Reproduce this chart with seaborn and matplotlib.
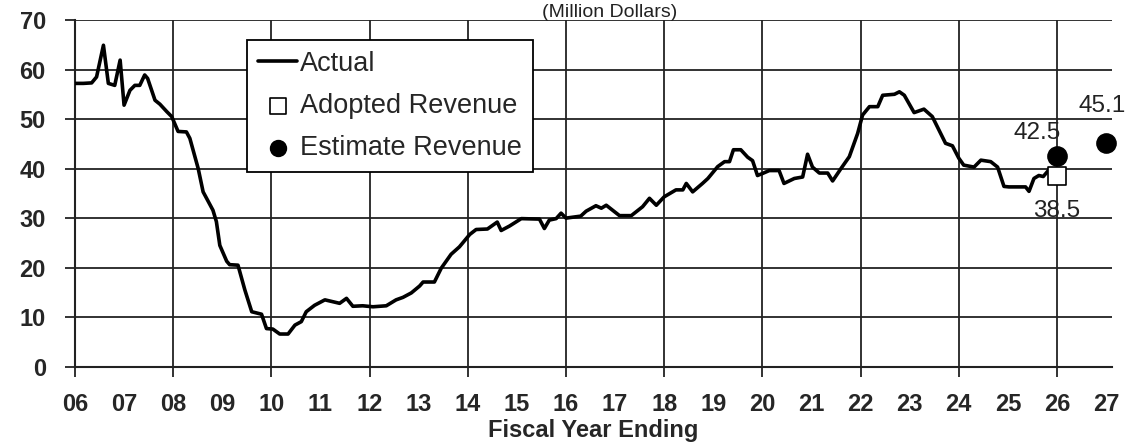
import numpy as np
import pandas as pd
import matplotlib
matplotlib.use("Agg")
import matplotlib.pyplot as plt
import seaborn as sns
from matplotlib.ticker import FixedLocator

sns.set_theme(style="white")
plt.rcParams['font.family'] = ['Liberation Sans', 'DejaVu Sans']

# monthly actual revenue (fiscal year as decimal)
years = [6.00, 6.17, 6.34, 6.44, 6.58, 6.68, 6.81, 6.92, 7.00, 7.12, 7.22, 7.32, 7.42, 7.48,
         7.63, 7.73, 7.87, 7.97, 8.10, 8.27, 8.34, 8.51, 8.61, 8.81, 8.88, 8.95, 9.09, 9.15,
         9.32, 9.46, 9.60, 9.80, 9.90, 10.03, 10.17, 10.34, 10.48, 10.61, 10.71, 10.88, 11.09,
         11.39, 11.53, 11.66, 11.86, 12.07, 12.34, 12.54, 12.68, 12.85, 13.02, 13.09, 13.32,
         13.46, 13.66, 13.83, 14.04, 14.17, 14.40, 14.60, 14.68, 14.85, 15.09, 15.46, 15.56,
         15.66, 15.80, 15.90, 16.00, 16.30, 16.41, 16.61, 16.72, 16.82, 17.09, 17.33, 17.56,
         17.70, 17.84, 18.00, 18.24, 18.38, 18.45, 18.58, 18.78, 18.89, 19.09, 19.23, 19.33,
         19.41, 19.56, 19.70, 19.80, 19.90, 20.00, 20.14, 20.34, 20.44, 20.65, 20.82, 20.92,
         21.02, 21.16, 21.33, 21.43, 21.60, 21.77, 21.94, 22.04, 22.18, 22.35, 22.45, 22.69,
         22.79, 22.89, 23.09, 23.29, 23.46, 23.73, 23.87, 24.00, 24.10, 24.31, 24.45, 24.65,
         24.79, 24.92, 25.02, 25.36, 25.43, 25.53, 25.63, 25.72, 25.84]
revenue = [57.2, 57.2, 57.3, 58.5, 64.9, 57.2, 56.8, 61.9, 52.8, 55.8, 56.8, 56.8, 58.9, 58.2,
           53.8, 53.0, 51.5, 50.5, 47.5, 47.4, 46.1, 40.0, 35.3, 31.6, 29.3, 24.5, 21.3, 20.6,
           20.5, 15.5, 11.1, 10.6, 7.7, 7.6, 6.6, 6.6, 8.4, 9.1, 11.1, 12.4, 13.5,
           12.8, 13.8, 12.2, 12.3, 12.1, 12.3, 13.5, 14.0, 14.9, 16.3, 17.1, 17.1,
           19.9, 22.7, 24.2, 26.7, 27.7, 27.8, 29.2, 27.5, 28.4, 29.9, 29.8, 27.9,
           29.6, 29.9, 31.0, 30.0, 30.4, 31.4, 32.5, 32.0, 32.6, 30.5, 30.5, 32.3,
           34.0, 32.6, 34.3, 35.7, 35.7, 37.0, 35.3, 37.0, 38.0, 40.4, 41.4, 41.4,
           43.8, 43.8, 42.3, 41.6, 38.6, 39.0, 39.6, 39.6, 37.0, 38.0, 38.3, 42.9,
           40.3, 39.1, 39.1, 37.5, 40.0, 42.4, 47.1, 50.8, 52.5, 52.5, 54.8, 55.0,
           55.5, 54.8, 51.3, 52.0, 50.5, 45.1, 44.6, 42.1, 40.7, 40.3, 41.7, 41.4,
           40.3, 36.4, 36.3, 36.3, 35.4, 38.0, 38.6, 38.4, 39.8]

adopted_year = [26]
adopted_value = [38.5]
estimate_years = [26, 27]
estimate_values = [42.5, 45.1]

year_ticks = list(range(6, 28))
year_labels = [f"{y:02d}" for y in year_ticks]
grid_years = list(range(6, 27, 2))

df = pd.DataFrame({'year': years, 'revenue': revenue})

fig = plt.figure(figsize=(11.34, 4.43), dpi=100)
ax = fig.add_axes([0.0661, 0.1722, 0.9145, 0.7827])

sns.lineplot(data=df, x='year', y='revenue', ax=ax, color='black', linewidth=2.6,
             label='Actual', zorder=3)
sns.scatterplot(x=adopted_year, y=adopted_value, ax=ax, marker='s', s=150, color='white',
                edgecolor='black', linewidth=1.2, label='Adopted Revenue', zorder=4,
                clip_on=False)
sns.scatterplot(x=estimate_years, y=estimate_values, ax=ax, marker='o', s=190, color='black',
                edgecolor='black', label='Estimate Revenue', zorder=4, clip_on=False)

# value labels
ax.annotate(f"{estimate_values[0]}", (estimate_years[0], estimate_values[0]), xytext=(-14, 17),
            textcoords='offset points', ha='center', va='center', fontsize=17.5, color='#222222')
ax.annotate(f"{estimate_values[1]}", (estimate_years[1], estimate_values[1]), xytext=(-3, 27),
            textcoords='offset points', ha='center', va='center', fontsize=17.5, color='#222222')
ax.annotate(f"{adopted_value[0]}", (adopted_year[0], adopted_value[0]), xytext=(0, -25),
            textcoords='offset points', ha='center', va='center', fontsize=17.5, color='#222222')

ax.set_xlim(6, 27.12)
ax.set_ylim(0, 70)
ax.set_yticks(range(0, 71, 10))
ax.set_yticklabels([str(v) for v in range(0, 71, 10)], fontweight='bold', fontsize=17)
ax.set_xticks(year_ticks)
ax.set_xticklabels(year_labels, fontweight='bold', fontsize=17)
ax.xaxis.remove_overlapping_locs = False
ax.xaxis.set_minor_locator(FixedLocator(grid_years))
ax.tick_params(axis='x', which='major', length=0, pad=19, bottom=True)
ax.tick_params(axis='x', which='minor', length=7, width=1.3, color='#222222',
               direction='out', bottom=True)
ax.tick_params(axis='y', which='major', length=7, width=1.3, color='#222222',
               direction='out', pad=14, left=True)

ax.grid(False)
ax.grid(which='minor', axis='x', color='#222222', linewidth=1.3)
ax.grid(which='major', axis='y', color='#222222', linewidth=1.3)
ax.set_axisbelow(True)

for side in ['top', 'right']:
    ax.spines[side].set_visible(False)
for side in ['left', 'bottom']:
    ax.spines[side].set_color('#222222')
    ax.spines[side].set_linewidth(1.5)

ax.set_xlabel('Fiscal Year Ending', fontweight='bold', fontsize=17, labelpad=2)
ax.set_ylabel('')

leg = ax.legend(loc='upper left', bbox_to_anchor=(0.166, 0.942), fontsize=19.5,
                frameon=True, fancybox=False, framealpha=1, edgecolor='black',
                handlelength=1.45, handletextpad=0.1, labelspacing=0.6, borderpad=0.4,
                borderaxespad=0)
leg.get_frame().set_linewidth(1.3)
for h in leg.legend_handles:
    if hasattr(h, 'set_sizes'):
        h.set_sizes([130])

fig.text(0.538, 0.962, '(Million Dollars)', ha='center', va='baseline', fontsize=14,
         color='#222222')

fig.savefig('out.png', dpi=100)
